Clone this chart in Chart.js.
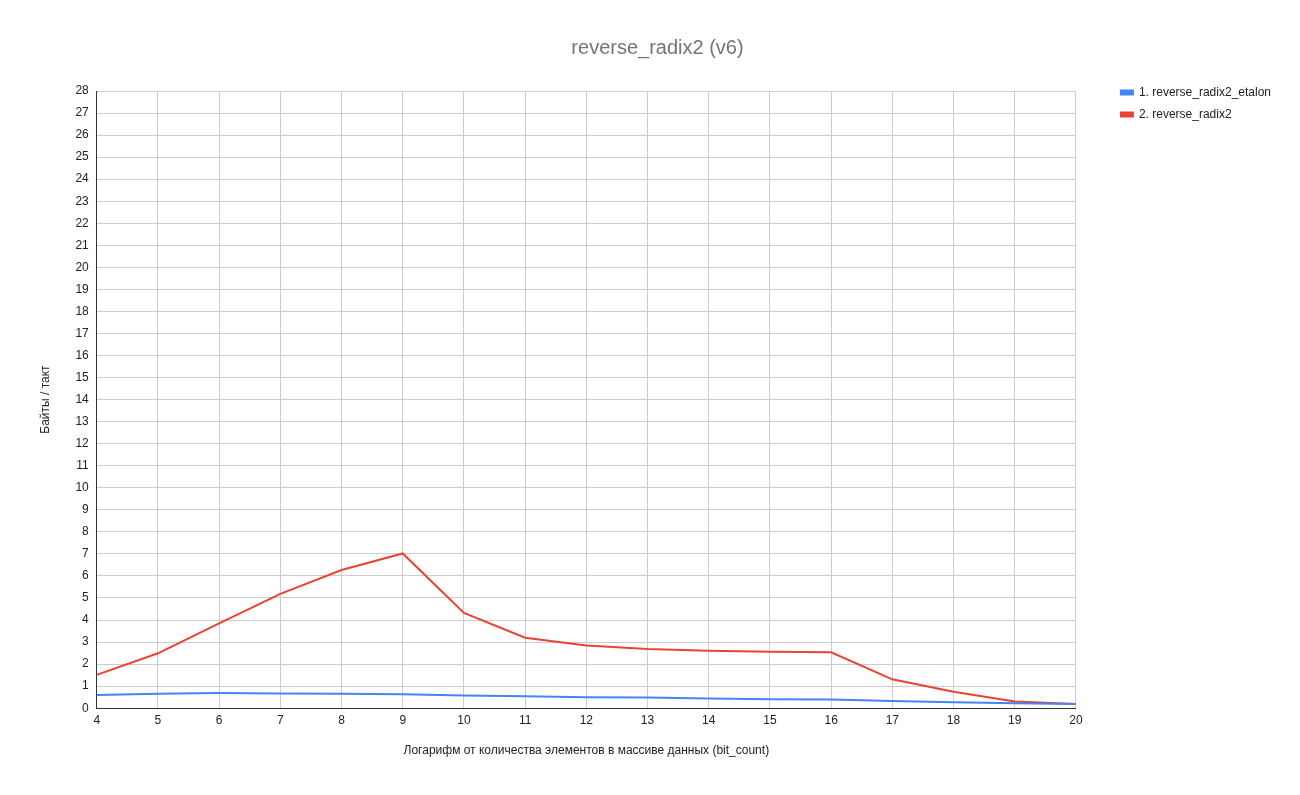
<!DOCTYPE html>
<html>
<head>
<meta charset="utf-8">
<script src="https://cdn.jsdelivr.net/npm/chart.js@4"></script>
<style>
  html, body { margin: 0; padding: 0; background: #fff; }
  #wrap { width: 1300px; height: 795px; }
</style>
</head>
<body>
<div id="wrap"><canvas id="chart" width="1300" height="795"></canvas></div>
<script>
// данные графика
const bitCounts = [4, 5, 6, 7, 8, 9, 10, 11, 12, 13, 14, 15, 16, 17, 18, 19, 20];
const etalon = [0.60, 0.65, 0.69, 0.67, 0.66, 0.63, 0.58, 0.54, 0.50, 0.48, 0.44, 0.41, 0.40, 0.33, 0.27, 0.22, 0.19];
const radix2 = [1.51, 2.49, 3.85, 5.19, 6.27, 7.02, 4.32, 3.20, 2.84, 2.69, 2.61, 2.56, 2.54, 1.31, 0.75, 0.30, 0.19];
const yTicks = { min: 0, max: 28, step: 1 };

const FONT = 'Arial, "Liberation Sans", sans-serif';

new Chart(document.getElementById('chart'), {
  type: 'line',
  data: {
    labels: bitCounts,
    datasets: [
      {
        label: '1. reverse_radix2_etalon',
        data: etalon,
        borderColor: '#4285f4',
        backgroundColor: '#4285f4',
        borderWidth: 2,
        pointRadius: 0,
        tension: 0
      },
      {
        label: '2. reverse_radix2',
        data: radix2,
        borderColor: '#ea4335',
        backgroundColor: '#ea4335',
        borderWidth: 2,
        pointRadius: 0,
        tension: 0
      }
    ]
  },
  options: {
    responsive: false,
    animation: false,
    layout: { padding: { left: 34, right: 19, top: 0, bottom: 33 } },
    plugins: {
      title: {
        display: true,
        text: 'reverse_radix2 (v6)',
        color: '#757575',
        font: { family: FONT, size: 20, weight: 'normal' },
        padding: { top: 36, bottom: 31 }
      },
      legend: {
        position: 'right',
        align: 'start',
        title: {
          // пустой заголовок, чтобы опустить легенду до верха области графика
          display: true,
          text: ' ',
          font: { family: FONT, size: 12 },
          padding: { top: 62, bottom: 0 }
        },
        labels: {
          color: '#222',
          font: { family: FONT, size: 12 },
          boxWidth: 12,
          boxHeight: 4,
          padding: 10
        }
      },
      tooltip: { enabled: false }
    },
    scales: {
      x: {
        offset: false,
        grid: { color: '#cccccc', offset: false, drawTicks: false },
        border: { color: '#333333' },
        ticks: { color: '#222', font: { family: FONT, size: 12 }, padding: 5, maxRotation: 0, autoSkip: false },
        title: {
          display: true,
          text: 'Логарифм от количества элементов в массиве данных (bit_count)',
          color: '#222',
          font: { family: FONT, size: 12 },
          padding: { top: 11 }
        }
      },
      y: {
        min: yTicks.min,
        max: yTicks.max,
        grid: { color: '#cccccc', drawTicks: false },
        border: { color: '#333333' },
        ticks: { stepSize: yTicks.step, color: '#222', font: { family: FONT, size: 12 }, padding: 8 },
        title: {
          display: true,
          text: 'Байты / такт',
          color: '#222',
          font: { family: FONT, size: 12 },
          padding: { bottom: 15 }
        }
      },
      gap: {
        position: 'right',
        display: true,
        grid: { display: false },
        border: { display: false },
        ticks: { display: false },
        afterFit: s => { s.width = 35; }
      }
    }
  }
});
</script>
</body>
</html>
